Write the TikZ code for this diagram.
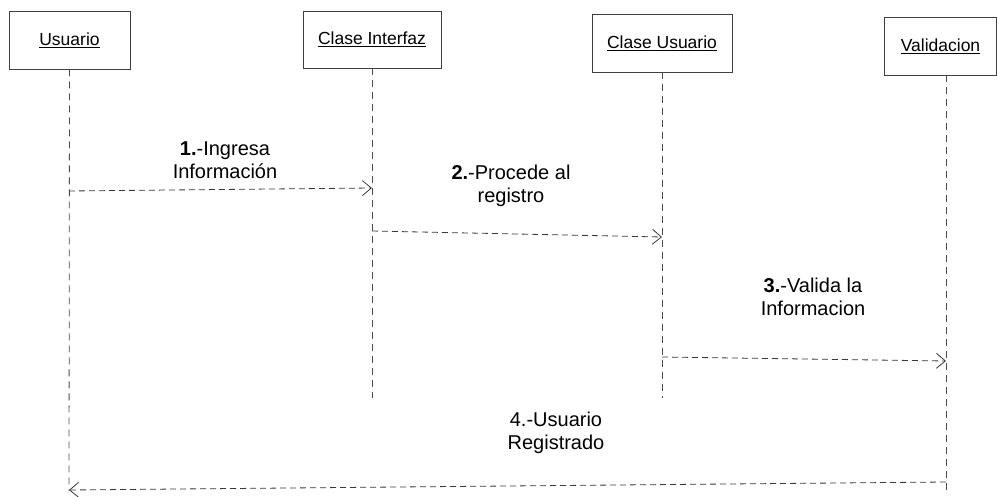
\documentclass[tikz,border=0pt]{standalone}
\usepackage{fontspec}
\setmainfont{Liberation Sans}
\usetikzlibrary{arrows.meta}
\begin{document}
\begin{tikzpicture}[x=1pt,y=-1pt,
  obj/.style={draw=black!75,line width=0.8pt,fill=white,inner sep=0pt,
    font=\fontsize{17.5}{20}\selectfont},
  life/.style={draw=black!70,line width=0.8pt,dash pattern=on 7pt off 5pt},
  msg/.style={draw=black!78,line width=0.8pt,dash pattern=on 6pt off 4pt,
    -{Straight Barb[length=9pt,width=15pt,line width=0.8pt]}},
  lbl/.style={align=center,font=\fontsize{20}{23.5}\selectfont,text=black}]
\useasboundingbox (0,0) rectangle (997,497);

% participants
\node[obj,minimum width=121pt,minimum height=58pt] (usr) at (69.5,40) {\underline{Usuario}};
\node[obj,minimum width=138pt,minimum height=57pt] (ci) at (372,39.5) {\underline{Clase Interfaz}};
\node[obj,minimum width=140pt,minimum height=58pt] (cu) at (662,43) {\underline{Clase Usuario}};
\node[obj,minimum width=112pt,minimum height=58pt] (val) at (940.5,46) {\underline{Validacion}};

% lifelines
\coordinate (usrEnd) at (69,491);
\coordinate (ciEnd) at (372,398);
\coordinate (cuEnd) at (662,398);
\coordinate (valTop) at (946,75);
\coordinate (valEnd) at (946,491);
\draw[life] (usr.south) -- (usrEnd);
\draw[life] (ci.south) -- (ciEnd);
\draw[life] (cu.south) -- (cuEnd);
\draw[life] (valTop) -- (valEnd);

% message end points
\coordinate (m1a) at (69,191);
\coordinate (m1b) at (372,188);
\coordinate (m2a) at (372,231);
\coordinate (m2b) at (662,237);
\coordinate (m3a) at (662,357);
\coordinate (m3b) at (946,361);
\coordinate (m4a) at (946,482);
\coordinate (m4b) at (69,490);

% messages
\draw[msg] (m1a) -- (m1b);
\draw[msg] (m2a) -- (m2b);
\draw[msg] (m3a) -- (m3b);
\draw[msg] (m4a) -- (m4b);

% message labels
\node[lbl] (l1) at (225,160) {\textbf{1.}-Ingresa\\Información};
\node[lbl] (l2) at (511,186) {\textbf{2.}-Procede al\\registro};
\node[lbl] (l3) at (813,297) {\textbf{3.}-Valida la\\Informacion};
\node[lbl] (l4) at (556,433) {4.-Usuario\\Registrado};
\end{tikzpicture}
\end{document}
